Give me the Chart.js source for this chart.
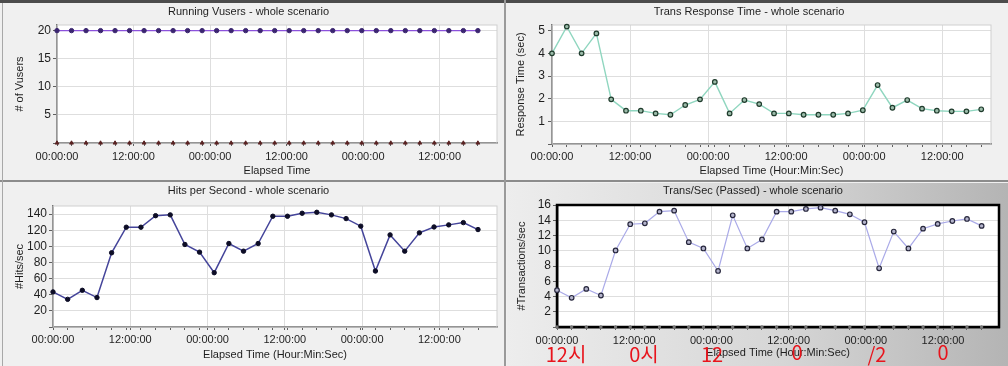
<!DOCTYPE html>
<html>
<head>
<meta charset="utf-8">
<script src="https://cdn.jsdelivr.net/npm/chart.js@4/dist/chart.umd.min.js"></script>
<style>
  html, body { margin: 0; padding: 0; }
  body { width: 1008px; height: 366px; position: relative; overflow: hidden; background: #f0f0f0; font-family: "Liberation Sans", Arial, sans-serif; }
  canvas { position: absolute; display: block; }
  .bar { position: absolute; }
  #br-bg { position: absolute; left: 507px; top: 183px; width: 501px; height: 183px;
           background: linear-gradient(to right, #ededed 0%, #d6d6d6 55%, #b4b4b4 100%); }
  .note { position: absolute; color: #e8141c; font: 20px "Noto Sans CJK KR", sans-serif; line-height: 20px; transform: translateX(-50%); white-space: nowrap; }
</style>
</head>
<body>
<div id="br-bg"></div>
<div class="bar" style="left:0;top:0;width:1008px;height:3px;background:#4c4c4c"></div>
<div class="bar" style="left:0;top:180px;width:1008px;height:2px;background:#8c8c8c"></div>
<div class="bar" style="left:504px;top:0;width:2px;height:366px;background:#9a9a9a"></div>
<div class="bar" style="left:2px;top:3px;width:1px;height:363px;background:#a8a8a8"></div>

<canvas id="tl" width="504" height="178" style="left:0;top:3px"></canvas>
<canvas id="tr" width="501" height="178" style="left:507px;top:3px"></canvas>
<canvas id="bl" width="504" height="183" style="left:0;top:183px"></canvas>
<canvas id="br" width="501" height="183" style="left:507px;top:183px"></canvas>

<div class="note" style="left:566px;top:344px">12시</div>
<div class="note" style="left:644px;top:344px">0시</div>
<div class="note" style="left:712px;top:344px">12</div>
<div class="note" style="left:797px;top:342px">0</div>
<div class="note" style="left:877px;top:344px">/2</div>
<div class="note" style="left:943px;top:342px">0</div>

<script>
// ── DATA ─────────────────────────────────────────────────────────
const SAMPLE_STEP = 66 / 29;            // hours between samples
const MAJOR_HOURS  = [0, 12, 24, 36, 48, 60];
const MAJOR_LABELS = ['00:00:00','12:00:00','00:00:00','12:00:00','00:00:00','12:00:00'];

const vusers = [20,20,20,20,20,20,20,20,20,20,20,20,20,20,20,20,20,20,20,20,20,20,20,20,20,20,20,20,20,20];
const vusersDone = [0,0,0,0,0,0,0,0,0,0,0,0,0,0,0,0,0,0,0,0,0,0,0,0,0,0,0,0,0,0];

const respTime = [4.0,5.18,4.0,4.88,1.97,1.47,1.47,1.35,1.29,1.72,1.97,2.74,1.35,1.94,1.76,
                  1.35,1.35,1.29,1.29,1.29,1.35,1.49,2.6,1.6,1.94,1.56,1.47,1.44,1.44,1.53];

const hitsPerSec = [43.5,34.3,45.5,36.5,92,123.7,123.7,138,139,102.3,92.8,67.3,103.5,94,103.5,
                    137.3,137.3,141,142.2,139,134.4,125,69.4,114.2,94,116.7,124,126.6,129.4,120.8];

const transPerSec = [4.83,3.83,5.0,4.13,10.04,13.48,13.6,15.13,15.26,11.13,10.3,7.35,14.65,10.3,11.48,
                     15.13,15.13,15.48,15.65,15.26,14.78,13.74,7.7,12.52,10.3,12.9,13.52,13.9,14.17,13.26];
const transFailed = [0,0,0,0,0,0,0,0,0,0,0,0,0,0,0,0,0,0,0,0,0,0,0,0,0,0,0,0,0,0];

// ── HELPERS ──────────────────────────────────────────────────────
const FONT = { family: '"Liberation Sans", Arial, sans-serif', size: 11 };
const TXT = '#1e1e1e';
const xy = vals => vals.map((v, i) => ({ x: i * SAMPLE_STEP, y: v }));

const plotFrame = {
  id: 'plotFrame',
  beforeDraw(chart, args, o) {
    const { ctx, chartArea: a } = chart;
    ctx.save();
    ctx.fillStyle = '#ffffff';
    ctx.fillRect(a.left, a.top, a.right - a.left, a.bottom - a.top);
    ctx.restore();
  },
  beforeDatasetsDraw(chart, args, o) {
    const { ctx, chartArea: a } = chart;
    ctx.save();
    ctx.strokeStyle = o.color;
    ctx.lineWidth = o.width;
    ctx.strokeRect(a.left, a.top, a.right - a.left, a.bottom - a.top);
    ctx.restore();
  }
};

function makeChart(id, p) {
  const nSamples = p.datasets[0].values.length;
  return new Chart(document.getElementById(id), {
    type: 'line',
    data: {
      datasets: p.datasets.map(d => ({
        data: xy(d.values),
        borderColor: d.line, borderWidth: d.lineW || 1.2,
        showLine: d.showLine !== false,
        pointStyle: d.style || 'circle', pointRadius: d.r || 2.2,
        pointBackgroundColor: d.fill, pointBorderColor: d.edge, pointBorderWidth: d.edgeW || 1,
        tension: 0, clip: false
      }))
    },
    options: {
      responsive: false, animation: false, events: [],
      layout: { padding: { left: 0, right: p.padR, top: 0, bottom: 0 } },
      plugins: {
        legend: { display: false }, tooltip: { enabled: false },
        title: { display: true, text: p.title, color: TXT, font: { ...FONT, weight: 'normal' },
                 padding: { top: p.tPadT, bottom: p.tPadB } },
        plotFrame: { color: p.frameColor, width: p.frameW }
      },
      scales: {
        x: {
          type: 'linear', min: 0, max: p.xMax,
          afterBuildTicks: s => {
            const vals = new Set(MAJOR_HOURS);
            for (let i = 0; i < nSamples; i++) vals.add(i * SAMPLE_STEP);
            s.ticks = [...vals].filter(v => v <= p.xMax).sort((a, b) => a - b).map(v => ({ value: v }));
          },
          afterFit: s => { s.height = p.xH; },
          ticks: { autoSkip: false, maxRotation: 0, padding: p.xTickPad, color: TXT, font: FONT,
                   callback: v => { const k = MAJOR_HOURS.indexOf(v); return k >= 0 ? MAJOR_LABELS[k] : ''; } },
          grid: { color: c => (c.tick && MAJOR_HOURS.includes(c.tick.value)) ? '#dedede' : 'rgba(0,0,0,0)',
                  tickColor: '#606060', tickLength: 3 },
          border: { color: '#5a5a5a', width: p.axisW },
          title: { display: true, text: p.xTitle, color: TXT, font: FONT, padding: { top: 0, bottom: p.xTitlePadB } }
        },
        y: {
          min: 0, max: p.yMax,
          afterFit: s => { s.width = p.yW; },
          ticks: { stepSize: p.yStep, autoSkip: false, includeBounds: false, padding: p.yTickPad, color: TXT,
                   font: { ...FONT, size: 12 }, callback: v => v === 0 ? '' : v },
          grid: { color: '#dedede', tickColor: '#606060', tickLength: 4 },
          border: { color: '#5a5a5a', width: p.axisW },
          title: { display: true, text: p.yTitle, color: TXT, font: FONT, padding: { top: p.yTitlePad, bottom: 0 } }
        }
      }
    },
    plugins: [plotFrame]
  });
}

// ── CHARTS ───────────────────────────────────────────────────────
makeChart('tl', {
  title: 'Running Vusers - whole scenario', tPadT: 2, tPadB: 6.8,
  xTitle: 'Elapsed Time', yTitle: '# of Vusers',
  xMax: 69.0, yMax: 21, yStep: 5,
  yW: 57, padR: 7, xH: 38, xTickPad: 4, xTitlePadB: 3.4, yTitlePad: 13.4, yTickPad: 2,
  frameColor: '#cfcfcf', frameW: 1, axisW: 1.5,
  datasets: [
    { values: vusers, line: '#8c52dc', lineW: 1.3, fill: '#3b2670', edge: '#3b2670', r: 2.2 },
    { values: vusersDone, showLine: false, style: 'triangle', line: '#5a2222', fill: '#5a2222', edge: '#5a2222', r: 2.2 }
  ]
});

makeChart('tr', {
  title: 'Trans Response Time - whole scenario', tPadT: 2, tPadB: 6.8,
  xTitle: 'Elapsed Time (Hour:Min:Sec)', yTitle: 'Response Time (sec)',
  xMax: 67.5, yMax: 5.25, yStep: 1,
  yW: 45, padR: 17, xH: 37, xTickPad: 3.5, xTitlePadB: 3.4, yTitlePad: 7.4, yTickPad: 3,
  frameColor: '#cfcfcf', frameW: 1, axisW: 1.5,
  datasets: [
    { values: respTime, line: '#8fd6bf', lineW: 1.4, fill: '#9cbcaa', edge: '#1f3b2c', edgeW: 1.2, r: 2.3 }
  ]
});

makeChart('bl', {
  title: 'Hits per Second - whole scenario', tPadT: 1.5, tPadB: 8.3,
  xTitle: 'Elapsed Time (Hour:Min:Sec)', yTitle: '#Hits/sec',
  xMax: 68.95, yMax: 150, yStep: 20,
  yW: 53, padR: 7, xH: 39, xTickPad: 3, xTitlePadB: 4.7, yTitlePad: 13.4, yTickPad: 2,
  frameColor: '#cfcfcf', frameW: 1, axisW: 1.5,
  datasets: [
    { values: hitsPerSec, line: '#44449a', lineW: 1.5, fill: '#0d0d26', edge: '#0d0d26', r: 2.2 }
  ]
});

makeChart('br', {
  title: 'Trans/Sec (Passed) - whole scenario', tPadT: 1.5, tPadB: 7.3,
  xTitle: 'Elapsed Time (Hour:Min:Sec)', yTitle: '#Transactions/sec',
  xMax: 68.7, yMax: 16, yStep: 2,
  yW: 50, padR: 9, xH: 39, xTickPad: 4, xTitlePadB: 6, yTitlePad: 8.4, yTickPad: 2,
  frameColor: '#000000', frameW: 2.5, axisW: 2.5,
  datasets: [
    { values: transPerSec, line: '#aaaae8', lineW: 1.2, fill: '#b4b4cc', edge: '#26263c', edgeW: 1.2, r: 2.3 },
    { values: transFailed, showLine: false, line: '#777', fill: '#777', edge: '#777', r: 1.2 }
  ]
});
</script>
</body>
</html>
